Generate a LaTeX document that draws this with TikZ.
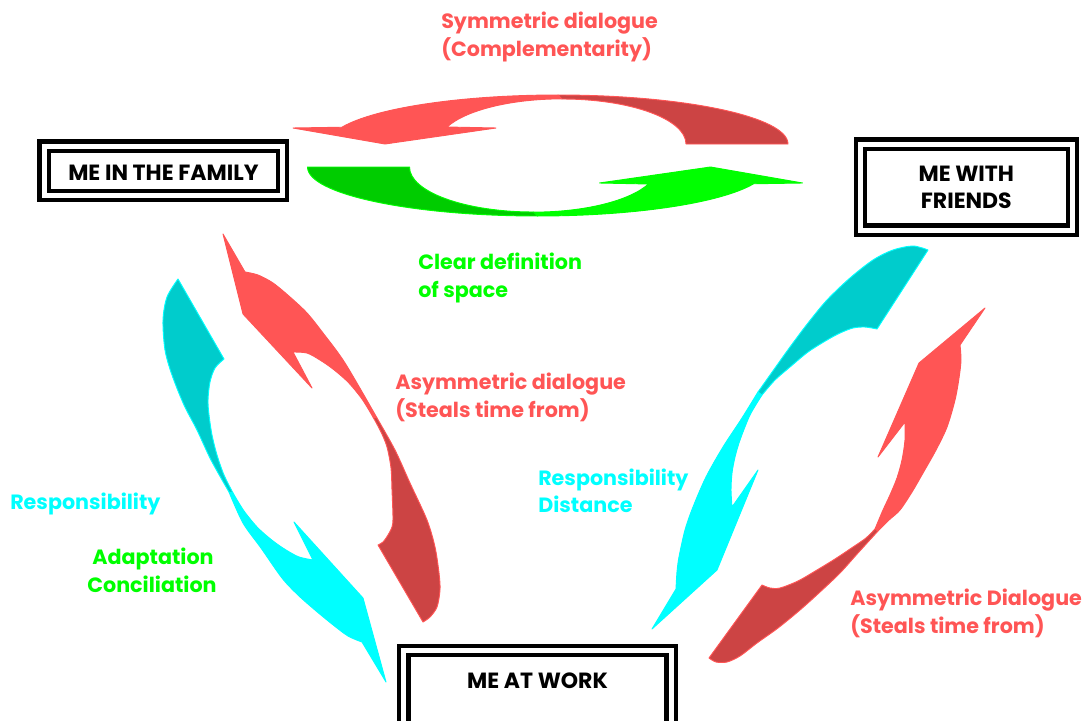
\documentclass[tikz,border=0pt]{standalone}
\usepackage{fontspec}
\setmainfont{Poppins}
\definecolor{redL}{RGB}{255,85,85}
\definecolor{redD}{RGB}{204,68,68}
\definecolor{cyanL}{RGB}{0,255,255}
\definecolor{cyanD}{RGB}{0,204,204}
\definecolor{greenL}{RGB}{0,255,0}
\definecolor{greenD}{RGB}{0,204,0}

% flat circular arrow of the top pair: head half and tail half
\newcommand{\flatringarrow}[2]{%
  \path[part={#1}{#1}] (558,95)
    arc[start angle=-90, end angle=-160, x radius=230, y radius=49]
    -- (293,128) -- (385,144) -- (496,128) -- (447,127)
    arc[start angle=-158, end angle=-90, x radius=124, y radius=45] -- cycle;
  \path[part={#2}{#1}] (558,95)
    arc[start angle=-90, end angle=0, x radius=230, y radius=49]
    -- (686,144)
    arc[start angle=0, end angle=-90, x radius=124, y radius=45] -- cycle;}

\begin{document}
\begin{tikzpicture}[x=0.75pt, y=-0.75pt,
  part/.style 2 args={fill=#1, draw=#2, line width=0.7pt, line join=round},
  frame/.style={draw=black, double=white, line width=3.2pt, double distance=3.8pt,
    inner sep=0pt, align=center, font=\fontsize{16.5}{20}\selectfont\bfseries},
  lbl/.style={inner sep=0pt, anchor=base west, font=\fontsize{15.5}{20}\selectfont\bfseries}]
\useasboundingbox (0,0) rectangle (1089,721);

% ---- top pair ----
\flatringarrow{redL}{redD}
\begin{scope}[rotate around={180:(547.75,155.5)}]
  \flatringarrow{greenL}{greenD}
\end{scope}

% ---- left pair: red (upwards) ----
\path[part={redL}{redL}] (377,418)
  -- plot[smooth] coordinates {(377,418) (345,363) (323,333) (307,313) (290,297) (273,283) (258,275) (245,272)}
  -- (223,234) -- (243,314) -- (312,388) -- (293,352)
  -- plot[smooth] coordinates {(293,352) (307,353) (320,360) (333,369) (348,382) (362,399) (373,417)}
  -- cycle;
\path[part={redD}{redL}] (377,418)
  -- plot[smooth] coordinates {(377,418) (395,450) (410,483) (427,520) (435,547) (439,573) (440,590) (437,607) (430,617) (423,622)}
  -- (378,545)
  -- plot[smooth] coordinates {(378,545) (383,542) (388,535) (392,527) (393,518) (392,490) (391,468) (387,447) (381,432) (373,417)}
  -- cycle;

% ---- left pair: cyan (downwards) ----
\path[part={cyanL}{cyanL}] (229,492)
  -- plot[smooth] coordinates {(229,492) (243,523) (261,548) (282,578) (298,595) (315,610) (332,624) (348,636) (362,642)}
  -- (386,682) -- (363,598) -- (294,522) -- (313,560)
  -- plot[smooth] coordinates {(313,560) (299,557) (286,550) (273,541) (258,528) (244,511) (233,493)}
  -- cycle;
\path[part={cyanD}{cyanL}] (229,492)
  -- plot[smooth] coordinates {(229,492) (211,460) (197,430) (184,405) (172,375) (165,350) (163,320) (167,297) (178,279)}
  -- (224,359)
  -- plot[smooth] coordinates {(224,359) (215,368) (210,382) (208,400) (209,415) (212,435) (217,455) (224,475) (233,493)}
  -- cycle;

% ---- right pair: cyan (downwards) ----
\path[part={cyanL}{cyanL}] (758,392)
  -- plot[smooth] coordinates {(758,392) (742,418) (723,447) (706,477) (693,507) (685,530) (679,557) (677,572) (676,589)}
  -- (652,629) -- (717,570) -- (758,470) -- (732,507)
  -- plot[smooth] coordinates {(732,507) (731,490) (732,473) (735,457) (740,440) (750,415) (762,395)}
  -- cycle;
\path[part={cyanD}{cyanL}] (758,392)
  -- plot[smooth] coordinates {(758,392) (775,368) (790,347) (808,323) (827,300) (850,278) (873,260) (893,250) (913,246) (928,250)}
  -- (877,329)
  -- plot[smooth] coordinates {(877,329) (865,327) (853,328) (840,333) (827,340) (808,352) (790,367) (775,380) (762,395)}
  -- cycle;

% ---- right pair: red (upwards) ----
\path[part={redL}{redL}] (878,531)
  -- plot[smooth] coordinates {(878,531) (889,520) (900,510) (912,492) (923,473) (936,450) (947,427) (955,400) (959,378) (961,360) (960,345)}
  -- (985,308) -- (919,363) -- (878,457) -- (905,422)
  -- plot[smooth] coordinates {(905,422) (905,440) (902,460) (897,478) (890,495) (883,510) (875,529)}
  -- cycle;
\path[part={redD}{redL}] (878,531)
  -- plot[smooth] coordinates {(878,531) (858,553) (840,573) (820,592) (800,610) (778,628) (757,643) (740,656) (727,662) (716,662) (709,658)}
  -- (762,585)
  -- plot[smooth] coordinates {(762,585) (770,588) (780,588) (798,581) (817,570) (835,559) (853,547) (866,538) (875,529)}
  -- cycle;

% ---- boxes ----
\node[frame, minimum width=178.7pt, anchor=north, text height=25.7pt, text depth=11.3pt] (family) at (163.4,144) {ME IN THE FAMILY};
\node[frame, minimum width=159pt, minimum height=64.6pt] (friends) at (966.3,187.2) {ME WITH\\FRIENDS};
\node[frame, minimum width=200.6pt, anchor=north, text height=28.2pt, text depth=37.5pt] (work) at (537.5,648.3) {ME AT WORK};

% ---- labels ----
\node[lbl, text=redL] (sym1) at (441,28) {Symmetric dialogue};
\node[lbl, text=redL] (sym2) at (441,56) {(Complementarity)};
\node[lbl, text=greenL] (clear1) at (418,269) {Clear definition};
\node[lbl, text=greenL] (clear2) at (418,297) {of space};
\node[lbl, text=redL] (asym1) at (395,389) {Asymmetric dialogue};
\node[lbl, text=redL] (asym2) at (395,417) {(Steals time from)};
\node[lbl, text=cyanL] (resp1) at (10,509) {Responsibility};
\node[lbl, text=greenL, anchor=base] (adapt1) at (153,564) {Adaptation};
\node[lbl, text=greenL, anchor=base] (adapt2) at (152,592) {Conciliation};
\node[lbl, text=cyanL] (resp2) at (538,485) {Responsibility};
\node[lbl, text=cyanL] (dist) at (538,512) {Distance};
\node[lbl, text=redL] (asymD1) at (850,605) {Asymmetric Dialogue};
\node[lbl, text=redL] (asymD2) at (850,633) {(Steals time from)};
\end{tikzpicture}
\end{document}
